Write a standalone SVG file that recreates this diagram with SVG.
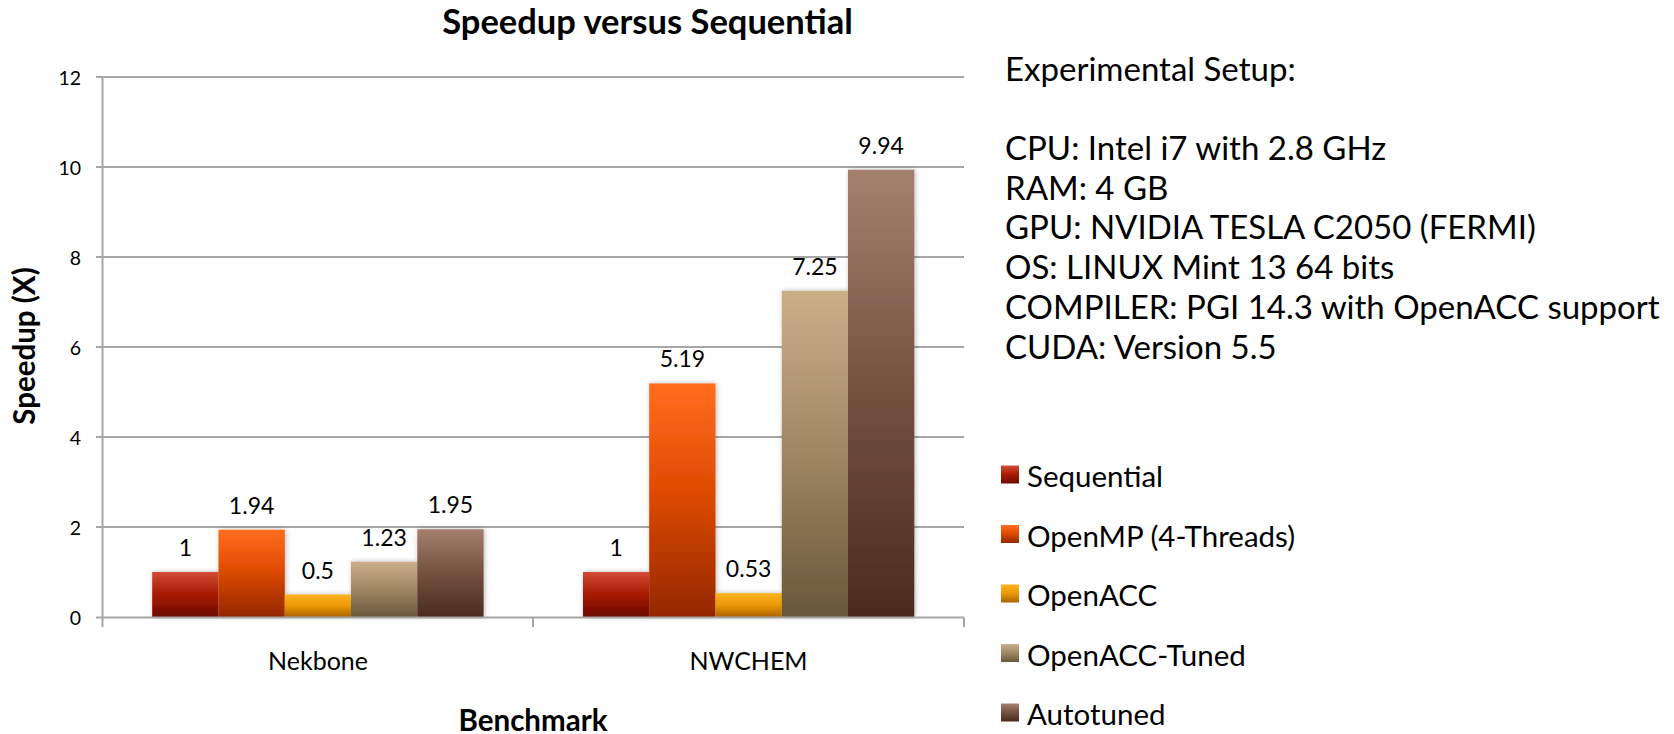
<svg xmlns="http://www.w3.org/2000/svg" width="1674" height="734" viewBox="0 0 1674 734">
  <style>
    text { font-family: Lato, "Open Sans", "Liberation Sans", sans-serif; fill: #000; }
    .title { font-size: 34.5px; font-weight: bold; }
    .axis-title { font-size: 29.5px; font-weight: bold; }
    .tick { font-size: 19.5px; text-anchor: end; }
    .cat { font-size: 25px; text-anchor: middle; }
    .val { font-size: 23px; text-anchor: middle; }
    .legend { font-size: 29.5px; }
    .setup { font-size: 33px; }
    .grid { stroke: #a6a6a6; stroke-width: 2; fill: none; }
  </style>
  <defs>
    <linearGradient id="g-seq" x1="0" y1="0" x2="0" y2="1">
      <stop offset="0" stop-color="#d24c36"/>
      <stop offset="0.5" stop-color="#a81a02"/>
      <stop offset="1" stop-color="#6e0900"/>
    </linearGradient>
    <linearGradient id="g-omp" x1="0" y1="0" x2="0" y2="1">
      <stop offset="0" stop-color="#ff6d1f"/>
      <stop offset="0.45" stop-color="#df4c03"/>
      <stop offset="1" stop-color="#952700"/>
    </linearGradient>
    <linearGradient id="g-acc" x1="0" y1="0" x2="0" y2="1">
      <stop offset="0" stop-color="#fbb31c"/>
      <stop offset="0.5" stop-color="#eb9806"/>
      <stop offset="1" stop-color="#aa6400"/>
    </linearGradient>
    <linearGradient id="g-tun" x1="0" y1="0" x2="0" y2="1">
      <stop offset="0" stop-color="#caaf89"/>
      <stop offset="0.5" stop-color="#9f8763"/>
      <stop offset="1" stop-color="#685739"/>
    </linearGradient>
    <linearGradient id="g-auto" x1="0" y1="0" x2="0" y2="1">
      <stop offset="0" stop-color="#a5806f"/>
      <stop offset="0.5" stop-color="#74503f"/>
      <stop offset="1" stop-color="#4b2b1e"/>
    </linearGradient>
    <filter id="shadow" x="-20%" y="-10%" width="140%" height="120%">
      <feDropShadow dx="1" dy="0" stdDeviation="2.5" flood-color="#000" flood-opacity="0.28"/>
    </filter>
  </defs>

  <rect width="1674" height="734" fill="#fff"/>

  <!-- chart title -->
  <text class="title" x="647.5" y="34" text-anchor="middle">Speedup versus Sequential</text>

  <!-- gridlines and value axis -->
  <g id="grid">
    <path class="grid" d="M96 77H964M96 167H964M96 257H964M96 347H964M96 437H964M96 527H964"/>
  </g>
  <g id="y-ticks">
    <text class="tick" x="81" y="84.5">12</text>
    <text class="tick" x="81" y="174.5">10</text>
    <text class="tick" x="81" y="264.5">8</text>
    <text class="tick" x="81" y="354.5">6</text>
    <text class="tick" x="81" y="444.5">4</text>
    <text class="tick" x="81" y="534.5">2</text>
    <text class="tick" x="81" y="624.5">0</text>
  </g>

  <!-- Nekbone bars -->
  <g id="nekbone" filter="url(#shadow)">
    <rect x="152.2" y="572" width="66.3" height="45" fill="url(#g-seq)"/>
    <rect x="218.5" y="529.7" width="66.3" height="87.3" fill="url(#g-omp)"/>
    <rect x="284.7" y="594.5" width="66.3" height="22.5" fill="url(#g-acc)"/>
    <rect x="351" y="561.65" width="66.3" height="55.35" fill="url(#g-tun)"/>
    <rect x="417.3" y="529.25" width="66.3" height="87.75" fill="url(#g-auto)"/>
  </g>
  <!-- NWCHEM bars -->
  <g id="nwchem" filter="url(#shadow)">
    <rect x="583" y="572" width="66.3" height="45" fill="url(#g-seq)"/>
    <rect x="649.2" y="383.45" width="66.3" height="233.55" fill="url(#g-omp)"/>
    <rect x="715.5" y="593.15" width="66.3" height="23.85" fill="url(#g-acc)"/>
    <rect x="781.8" y="290.75" width="66.3" height="326.25" fill="url(#g-tun)"/>
    <rect x="848" y="169.7" width="66.3" height="447.3" fill="url(#g-auto)"/>
  </g>

  <!-- axes drawn over the bar bases -->
  <g id="axes">
    <path class="grid" d="M102.5 77V627M96 617.5H964M533 617.5V627M964 617.5V627"/>
  </g>

  <!-- data labels -->
  <g id="values">
    <text class="val" x="185.4" y="556">1</text>
    <text class="val" x="251.6" y="513.5">1.94</text>
    <text class="val" x="317.9" y="578.5">0.5</text>
    <text class="val" x="384.1" y="545.5">1.23</text>
    <text class="val" x="450.4" y="513">1.95</text>
    <text class="val" x="616.1" y="556">1</text>
    <text class="val" x="682.4" y="367">5.19</text>
    <text class="val" x="748.6" y="577">0.53</text>
    <text class="val" x="814.9" y="274.5">7.25</text>
    <text class="val" x="881.1" y="153.5">9.94</text>
  </g>

  <!-- category labels and axis titles -->
  <text class="cat" x="318" y="670">Nekbone</text>
  <text class="cat" x="748.5" y="670">NWCHEM</text>
  <text class="axis-title" x="533" y="730.5" text-anchor="middle">Benchmark</text>
  <text class="axis-title" transform="translate(35 346) rotate(-90)" text-anchor="middle">Speedup (X)</text>

  <!-- experimental setup notes -->
  <g id="setup">
    <text class="setup" x="1005" y="81">Experimental Setup:</text>
    <text class="setup" x="1005" y="160">CPU: Intel i7 with 2.8 GHz</text>
    <text class="setup" x="1005" y="199.5">RAM: 4 GB</text>
    <text class="setup" x="1005" y="239">GPU: NVIDIA TESLA C2050 (FERMI)</text>
    <text class="setup" x="1005" y="279">OS: LINUX Mint 13 64 bits</text>
    <text class="setup" x="1005" y="319">COMPILER: PGI 14.3 with OpenACC support</text>
    <text class="setup" x="1005" y="358.5">CUDA: Version 5.5</text>
  </g>

  <!-- legend -->
  <g id="legend">
    <g id="legend-seq">
      <rect x="1001" y="465.5" width="18" height="18" fill="url(#g-seq)"/>
      <text class="legend" x="1027" y="487">Sequential</text>
    </g>
    <g id="legend-omp">
      <rect x="1001" y="525" width="18" height="18" fill="url(#g-omp)"/>
      <text class="legend" x="1027" y="546.5">OpenMP (4-Threads)</text>
    </g>
    <g id="legend-acc">
      <rect x="1001" y="584.5" width="18" height="18" fill="url(#g-acc)"/>
      <text class="legend" x="1027" y="606">OpenACC</text>
    </g>
    <g id="legend-tun">
      <rect x="1001" y="644" width="18" height="18" fill="url(#g-tun)"/>
      <text class="legend" x="1027" y="665.5">OpenACC-Tuned</text>
    </g>
    <g id="legend-auto">
      <rect x="1001" y="703.5" width="18" height="18" fill="url(#g-auto)"/>
      <text class="legend" x="1027" y="725">Autotuned</text>
    </g>
  </g>
</svg>
